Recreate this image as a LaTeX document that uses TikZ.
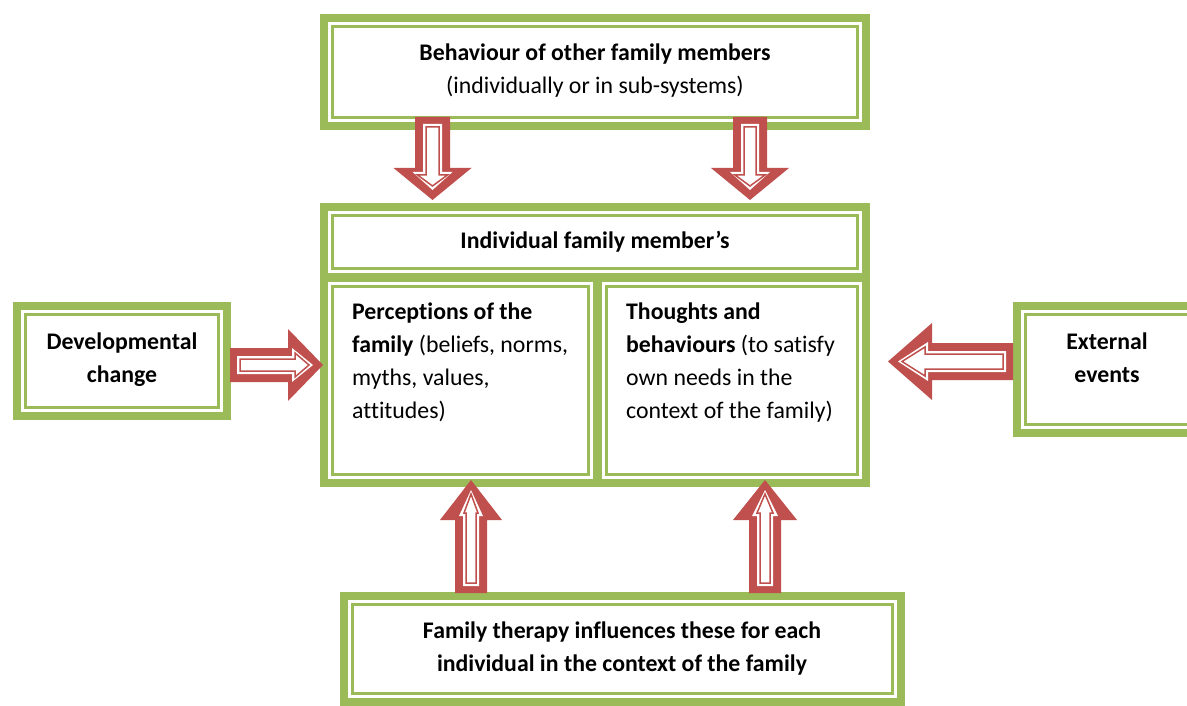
\documentclass[tikz,border=0pt]{standalone}
\usepackage{fontspec}
\setmainfont{Carlito}[Ligatures=NoCommon]
\usetikzlibrary{fit}
\definecolor{boxgreen}{HTML}{9BBB59}
\definecolor{arrred}{HTML}{C0504D}
\tikzset{
  outerband/.style={draw=boxgreen, line width=8pt},
  innerline/.style={draw=boxgreen, line width=2.4pt},
  frame/.style={inner sep=0pt, outer sep=0pt},
  txt/.style={font=\fontsize{23.8}{33}\selectfont, inner sep=0pt},
  pics/barrow/.style n args={4}{code={
    \fill[arrred] (0,-#2) -- ({#1-#4},-#2) -- ({#1-#4},-#3) -- (#1,0)
      -- ({#1-#4},#3) -- ({#1-#4},#2) -- (0,#2) -- cycle;
    \fill[white] (7,{8-#2}) -- ({#1-#4+4},{8-#2}) -- ({#1-#4+4},{19-#3}) -- ({#1-10},0)
      -- ({#1-#4+4},{#3-19}) -- ({#1-#4+4},{#2-8}) -- (7,{#2-8}) -- cycle;
    \draw[arrred, line width=1.5pt, line join=miter] (10,{11-#2}) -- ({#1-#4+7},{11-#2}) -- ({#1-#4+7},{24-#3}) -- ({#1-14},0)
      -- ({#1-#4+7},{#3-24}) -- ({#1-#4+7},{#2-11}) -- (10,{#2-11}) -- cycle;
  }}
}
\newcommand\dfbox[5]{%
  \node[frame, fit={(#2,#3)(#4,#5)}] (#1) {};
  \draw[outerband] ({#2+4},{#3+4}) rectangle ({#4-4},{#5-4});
  \draw[innerline] ({#2+12.5},{#3+12.5}) rectangle ({#4-12.5},{#5-12.5});
}
\begin{document}
\begin{tikzpicture}[x=1pt,y=-1pt]
\useasboundingbox (0,0) rectangle (1187,706);
\clip (0,0) rectangle (1187,706);
\fill[white] (0,0) rectangle (1187,706);
% boxes
\dfbox{top}{320}{14}{870}{130}
\dfbox{head}{320}{203}{870}{281}
\dfbox{cellL}{320}{274}{601}{487}
\dfbox{cellR}{594}{274}{870}{487}
\dfbox{dev}{13}{302}{231}{420}
\dfbox{ext}{1013}{302}{1201}{437}
\dfbox{bot}{340}{592}{905}{706}
% texts
\node[txt, align=center] (toptext) at (595,70.5)
  {\textbf{Behaviour of other family members}\\(individually or in sub-systems)};
\node[txt, align=center] (headtext) at (595,242) {\textbf{Individual family member’s}};
\node[txt, align=left, anchor=north west] (celltextL) at (352,303)
  {\textbf{Perceptions of the}\\\textbf{family} (beliefs, norms,\\myths, values,\\attitudes)};
\node[txt, align=left, anchor=north west] (celltextR) at (626,303)
  {\textbf{Thoughts and}\\\textbf{behaviours} (to satisfy\\own needs in the\\context of the family)};
\node[txt, align=center] (devtext) at (122,359.5) {\textbf{Developmental}\\\textbf{change}};
\node[txt, align=center] (exttext) at (1107,358) {\textbf{External}\\\textbf{events}};
\node[txt, align=center] (bottext) at (622,649)
  {\textbf{Family therapy influences these for each}\\\textbf{individual in the context of the family}};
% arrows
\pic[rotate=-90] at (432.5,117) {barrow={83}{17.5}{39}{32}};
\pic[rotate=-90] at (750,117) {barrow={83}{17}{39}{32}};
\pic at (230,365) {barrow={93}{17}{36}{35}};
\pic[rotate=180] at (1013,361.5) {barrow={125}{18.5}{38.5}{44}};
\pic[rotate=90] at (471,593) {barrow={113}{16}{31}{40}};
\pic[rotate=90] at (765,593) {barrow={113}{16}{32}{40}};
\end{tikzpicture}
\end{document}
